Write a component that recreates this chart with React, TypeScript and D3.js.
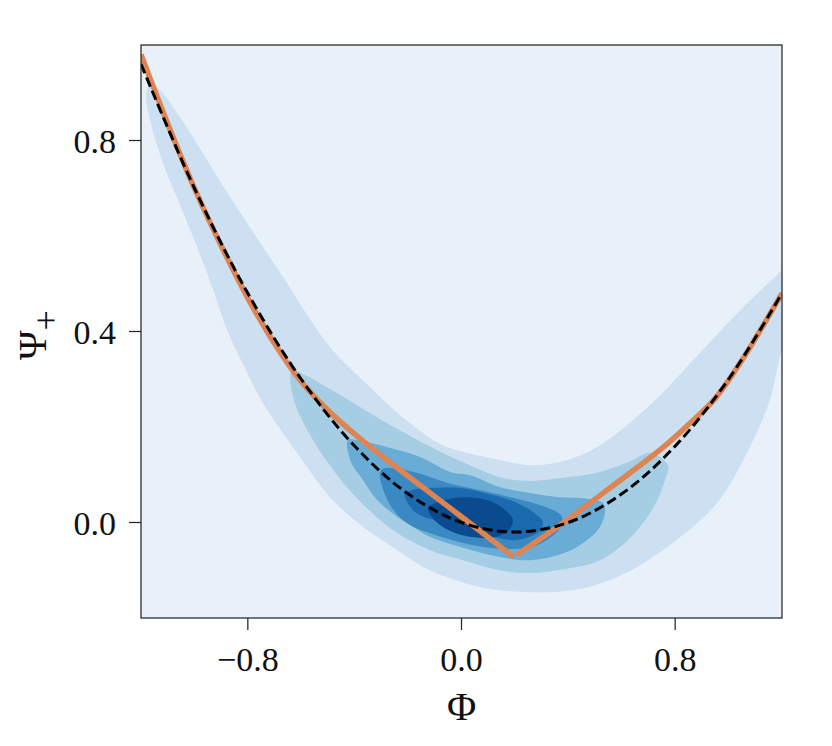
import React from "react";
import * as d3 from "d3";

// ---------- data ----------
const xTicks = [-0.8, 0.0, 0.8];
const yTicks = [0.0, 0.4, 0.8];
const xTickLabels = ["\u22120.8", "0.0", "0.8"];
const yTickLabels = ["0.0", "0.4", "0.8"];

// density contour levels (outer -> inner), each a closed outline [Φ, Ψ+]
const level1: [number, number][] = [
  [-1.166, 0.918], [-1.181, 0.895], [-1.166, 0.843], [-1.118, 0.753], [-1.054, 0.665],
  [-0.99, 0.577], [-0.93, 0.487], [-0.878, 0.403], [-0.811, 0.324], [-0.743, 0.25],
  [-0.616, 0.146], [-0.492, 0.053], [-0.369, -0.009], [-0.241, -0.058], [-0.118, -0.1],
  [0.069, -0.135], [0.256, -0.146], [0.425, -0.141], [0.594, -0.112], [0.769, -0.052],
  [0.957, 0.041], [1.08, 0.158], [1.155, 0.257], [1.2, 0.361], [1.249, 0.419],
  [1.267, 0.566], [1.2, 0.529], [1.054, 0.451], [0.867, 0.34], [0.706, 0.246],
  [0.519, 0.162], [0.395, 0.131], [0.268, 0.12], [0.144, 0.131], [-0.043, 0.156],
  [-0.118, 0.177], [-0.23, 0.225], [-0.343, 0.284], [-0.493, 0.368], [-0.68, 0.524],
  [-0.867, 0.682], [-1.054, 0.849], [-1.129, 0.906],
];
const level2: [number, number][] = [
  [-0.635, 0.319], [-0.631, 0.263], [-0.556, 0.173], [-0.429, 0.074], [-0.305, 0.005],
  [-0.241, -0.022], [-0.118, -0.058], [0.006, -0.079], [0.133, -0.099], [0.256, -0.106],
  [0.369, -0.099], [0.519, -0.079], [0.642, -0.026], [0.724, 0.037], [0.762, 0.089],
  [0.773, 0.12], [0.706, 0.146], [0.642, 0.131], [0.519, 0.106], [0.369, 0.093],
  [0.256, 0.087], [0.144, 0.095], [0.032, 0.12], [-0.092, 0.152], [-0.279, 0.208],
  [-0.466, 0.271], [-0.586, 0.309],
];
const level3: [number, number][] = [
  [-0.425, 0.173], [-0.417, 0.131], [-0.369, 0.089], [-0.316, 0.047], [-0.241, 0.012],
  [-0.182, -0.009], [-0.118, -0.03], [0.006, -0.053], [0.125, -0.07], [0.256, -0.079],
  [0.395, -0.062], [0.481, -0.032], [0.519, -0.009], [0.537, 0.022], [0.53, 0.041],
  [0.455, 0.051], [0.369, 0.053], [0.256, 0.062], [0.144, 0.074], [0.032, 0.099],
  [-0.043, 0.106], [-0.155, 0.137], [-0.279, 0.158], [-0.38, 0.171],
];
const level4: [number, number][] = [
  [-0.305, 0.106], [-0.286, 0.058], [-0.249, 0.022], [-0.193, -0.005], [-0.118, -0.022],
  [0.006, -0.043], [0.144, -0.055], [0.268, -0.051], [0.331, -0.032], [0.369, -0.012],
  [0.376, 0.012], [0.343, 0.026], [0.268, 0.041], [0.144, 0.058], [0.032, 0.072],
  [-0.043, 0.081], [-0.155, 0.102], [-0.23, 0.112], [-0.286, 0.114],
];
const level5: [number, number][] = [
  [-0.212, 0.058], [-0.174, 0.022], [-0.08, 0.001], [0.069, -0.022], [0.193, -0.037],
  [0.256, -0.03], [0.294, -0.016], [0.305, 0.001], [0.268, 0.022], [0.182, 0.047],
  [0.069, 0.064], [-0.006, 0.072], [-0.118, 0.072], [-0.185, 0.068],
];
const level6: [number, number][] = [
  [-0.125, 0.03], [-0.062, 0.047], [0.013, 0.053], [0.095, 0.047], [0.155, 0.03],
  [0.193, 0.005], [0.17, -0.02], [0.107, -0.032], [0.013, -0.028], [-0.062, -0.012],
  [-0.107, 0.009],
];
const contourLevels = [level1, level2, level3, level4, level5, level6];
const contourColors = ["#cde0f1", "#a5cde3", "#69acd5", "#3b89c3", "#1b69ae", "#0a4a8f"];
const backgroundColor = "#e8f1fa";

// orange two-branch curve
const orangeLeftX = [-1.2, -1.1, -1.0, -0.9, -0.8, -0.7, -0.6, -0.5, -0.4, -0.3, -0.2, 0.0, 0.195];
const orangeLeftY = [0.98, 0.835, 0.7, 0.58, 0.47, 0.375, 0.295, 0.235, 0.185, 0.14, 0.097, 0.012, -0.072];
const orangeRightX = [0.205, 0.37, 0.55, 0.75, 0.85, 0.95, 1.05, 1.2];
const orangeRightY = [-0.068, -0.005, 0.07, 0.155, 0.205, 0.26, 0.34, 0.48];

// black dashed curve
const dashX = [-1.2, -1.0, -0.8, -0.6, -0.4, -0.2, 0.0, 0.2, 0.4, 0.6, 0.8, 1.0, 1.2];
const dashY = [0.96, 0.7, 0.48, 0.3, 0.16, 0.06, 0.0, -0.02, 0.0, 0.06, 0.16, 0.3, 0.48];

// ---------- layout ----------
const W = 832;
const H = 746;
const plot = { left: 141, right: 782, top: 45, bottom: 618 };
const FONT = "'Liberation Serif', 'DejaVu Serif', serif";

export default function App() {
  const x = d3.scaleLinear().domain([-1.2, 1.2]).range([plot.left, plot.right]);
  const y = d3.scaleLinear().domain([-0.2, 1.0]).range([plot.bottom, plot.top]);

  const closed = d3
    .line<[number, number]>()
    .x((d) => x(d[0]))
    .y((d) => y(d[1]))
    .curve(d3.curveCatmullRomClosed.alpha(0.5));

  const open = d3
    .line<[number, number]>()
    .x((d) => x(d[0]))
    .y((d) => y(d[1]))
    .curve(d3.curveCatmullRom.alpha(0.5));

  const zip = (a: number[], b: number[]) => a.map((v, i) => [v, b[i]] as [number, number]);

  return (
    <svg
      width={W}
      height={H}
      style={{ position: "absolute", left: 0, top: 0, display: "block", background: "#fff" }}
    >
      <defs>
        <clipPath id="plotClip">
          <rect x={plot.left} y={plot.top} width={plot.right - plot.left} height={plot.bottom - plot.top} />
        </clipPath>
      </defs>
      <g clipPath="url(#plotClip)">
        <rect
          x={plot.left}
          y={plot.top}
          width={plot.right - plot.left}
          height={plot.bottom - plot.top}
          fill={backgroundColor}
        />
        {contourLevels.map((lvl, i) => (
          <path key={i} d={closed(lvl) || ""} fill={contourColors[i]} stroke="none" />
        ))}
        <path
          d={open(zip(orangeLeftX, orangeLeftY)) || ""}
          fill="none"
          stroke="#dd8452"
          strokeWidth={5.5}
        />
        <path
          d={open(zip(orangeRightX, orangeRightY)) || ""}
          fill="none"
          stroke="#dd8452"
          strokeWidth={5.5}
        />
        <path
          d={open(zip(dashX, dashY)) || ""}
          fill="none"
          stroke="#000"
          strokeWidth={3}
          strokeDasharray="10,4.5"
        />
      </g>
      {/* frame */}
      <rect
        x={plot.left}
        y={plot.top}
        width={plot.right - plot.left}
        height={plot.bottom - plot.top}
        fill="none"
        stroke="#262626"
        strokeWidth={1.25}
      />
      {/* x ticks */}
      {xTicks.map((t, i) => (
        <g key={"xt" + i}>
          <line x1={x(t)} x2={x(t)} y1={plot.bottom} y2={plot.bottom + 12} stroke="#262626" strokeWidth={1.25} />
          <text x={x(t)} y={671} textAnchor="middle" fontFamily={FONT} fontSize={34} fill="#111">
            {xTickLabels[i]}
          </text>
        </g>
      ))}
      {/* y ticks */}
      {yTicks.map((t, i) => (
        <g key={"yt" + i}>
          <line x1={plot.left - 12} x2={plot.left} y1={y(t)} y2={y(t)} stroke="#262626" strokeWidth={1.25} />
          <text x={116} y={y(t) + 12} textAnchor="end" fontFamily={FONT} fontSize={34} fill="#111">
            {yTickLabels[i]}
          </text>
        </g>
      ))}
      {/* axis labels */}
      <text x={(plot.left + plot.right) / 2} y={720} textAnchor="middle" fontFamily={FONT} fontSize={40} fill="#111">
        Φ
      </text>
      <text transform="translate(46,335) rotate(-90)" textAnchor="middle" fontFamily={FONT} fontSize={40} fill="#111">
        Ψ<tspan fontSize={36} dy={12}>+</tspan>
      </text>
    </svg>
  );
}
